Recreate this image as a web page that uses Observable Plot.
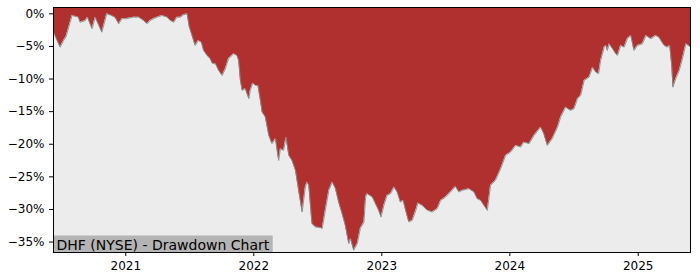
<!DOCTYPE html>
<html>
<head>
<meta charset="utf-8">
<script src="https://cdn.jsdelivr.net/npm/d3@7"></script>
<script src="https://cdn.jsdelivr.net/npm/@observablehq/plot@0.6"></script>
<style>
  html, body { margin: 0; padding: 0; background: white; }
  #chart { width: 700px; height: 280px; }
</style>
</head>
<body>
<div id="chart"></div>
<script>
const title = "DHF (NYSE) - Drawdown Chart";
const yTicks = [0, -5, -10, -15, -20, -25, -30, -35];
const yearTicks = ["2021-01-01", "2022-01-01", "2023-01-01", "2024-01-01", "2025-01-01"];

const dates = [
"2020-06-09","2020-06-17","2020-06-28","2020-07-08","2020-07-15","2020-08-01","2020-08-19","2020-08-24",
"2020-09-08","2020-09-14","2020-09-27","2020-10-06","2020-10-25","2020-11-08","2020-11-21","2020-12-02",
"2020-12-12","2020-12-22","2020-12-31","2021-01-23","2021-02-07","2021-02-21","2021-03-03","2021-03-12",
"2021-03-21","2021-03-31","2021-04-14","2021-04-29","2021-05-08","2021-05-18","2021-05-27","2021-06-06",
"2021-06-15","2021-06-25","2021-07-01","2021-07-10","2021-07-18","2021-07-27","2021-08-05","2021-08-11",
"2021-08-21","2021-08-30","2021-09-05","2021-09-14","2021-09-23","2021-10-03","2021-10-12","2021-10-21",
"2021-11-05","2021-11-14","2021-11-19","2021-11-24","2021-11-29","2021-12-08","2021-12-13","2021-12-18",
"2021-12-22","2021-12-29","2022-01-06","2022-01-13","2022-01-20","2022-01-25","2022-02-03","2022-02-13",
"2022-02-22","2022-03-04","2022-03-13","2022-03-18","2022-03-27","2022-04-03","2022-04-11","2022-04-20",
"2022-04-30","2022-05-09","2022-05-19","2022-05-28","2022-06-02","2022-06-07","2022-06-16","2022-06-26",
"2022-07-10","2022-07-15","2022-07-24","2022-08-03","2022-08-13","2022-08-22","2022-08-31","2022-09-10",
"2022-09-19","2022-09-29","2022-10-04","2022-10-13","2022-10-23","2022-11-01","2022-11-11","2022-11-16",
"2022-11-20","2022-12-05","2022-12-14","2022-12-23","2022-12-30","2023-01-07","2023-01-16","2023-01-26",
"2023-02-05","2023-02-14","2023-02-23","2023-03-03","2023-03-10","2023-03-19","2023-03-29","2023-04-08",
"2023-04-14","2023-04-26","2023-05-11","2023-05-25","2023-06-08","2023-06-18","2023-07-02","2023-07-16",
"2023-07-30","2023-08-09","2023-08-18","2023-09-06","2023-09-21","2023-09-30","2023-10-10","2023-10-19",
"2023-10-29","2023-11-07","2023-11-21","2023-12-06","2023-12-20","2024-01-03","2024-01-18","2024-02-01",
"2024-02-10","2024-02-25","2024-03-10","2024-03-29","2024-04-07","2024-04-17","2024-05-01","2024-05-16",
"2024-05-25","2024-06-08","2024-06-22","2024-07-02","2024-07-12","2024-07-21","2024-07-31","2024-08-14",
"2024-08-24","2024-09-02","2024-09-10","2024-09-16","2024-09-26","2024-10-01","2024-10-05","2024-10-10",
"2024-10-20","2024-10-29","2024-11-03","2024-11-12","2024-11-22","2024-12-01","2024-12-11","2024-12-20",
"2024-12-30","2025-01-13","2025-01-23","2025-02-06","2025-02-20","2025-03-01","2025-03-16","2025-03-25",
"2025-04-01","2025-04-07","2025-04-10","2025-04-18","2025-04-28","2025-05-07","2025-05-17","2025-05-24",
"2025-05-30"
];

const drawdown = [
-2.82,-3.78,-5.12,-4.09,-3.48,-0.26,-0.52,-1.29,
-1.03,-0.52,-2.30,-0.52,-2.82,0,-0.26,-0.57,
-1.53,-0.72,-0.77,-0.52,-0.52,-1.03,-1.53,-1.03,
-0.77,-0.52,-0.26,-0.52,-1.03,-1.29,-0.52,-0.52,
-0.15,0,-1.95,-3.48,-4.86,-4.09,-4.40,-5.62,
-6.39,-6.90,-7.62,-7.66,-8.69,-9.45,-8.43,-6.90,
-6.13,-6.39,-7.16,-10.22,-11.75,-11.49,-12.26,-13.02,
-11.75,-10.63,-10.99,-10.99,-13.29,-15.08,-15.84,-18.65,
-19.92,-19.15,-22.48,-20.69,-20.95,-18.91,-21.71,-22.48,
-24.01,-27.08,-30.40,-26.57,-25.80,-26.31,-32.18,-32.70,
-32.79,-32.94,-30.14,-27.08,-25.80,-26.82,-28.87,-30.65,
-32.44,-35.24,-34.48,-36.27,-35.24,-32.90,-31.98,-28.10,
-27.58,-28.10,-29.11,-30.14,-31.17,-29.37,-27.84,-27.58,
-26.57,-27.34,-28.87,-28.61,-30.14,-31.93,-31.67,-30.14,
-29.02,-29.37,-30.14,-30.40,-29.88,-28.61,-28.10,-27.34,
-26.46,-27.34,-27.08,-26.82,-27.34,-28.35,-28.61,-29.37,
-30.14,-26.31,-25.54,-23.75,-21.71,-21.21,-20.18,-20.44,
-19.68,-19.92,-18.65,-17.38,-18.39,-20.18,-19.15,-17.38,
-15.84,-14.31,-14.82,-14.56,-13.02,-12.52,-10.22,-9.71,
-8.18,-8.95,-9.19,-7.16,-5.12,-4.86,-5.62,-4.60,
-5.36,-6.13,-6.39,-4.86,-5.12,-3.83,-3.33,-5.62,
-4.86,-4.60,-3.33,-3.83,-3.33,-3.59,-4.86,-5.12,
-4.86,-8.18,-11.25,-9.96,-8.69,-6.90,-4.60,-4.86,
-5.12
];

const parse = d3.utcParse("%Y-%m-%d");
const data = dates.map((d, i) => ({date: parse(d), value: drawdown[i]}));
const yMin = -36.6, yMax = 0.97;
const xDomain = d3.extent(data, d => d.date);

const RED = "#b03030";
const GRAY = "#ececec";

const chart = Plot.plot({
  width: 700,
  height: 280,
  marginLeft: 53,
  marginRight: 10,
  marginTop: 7,
  marginBottom: 28,
  style: {fontFamily: "DejaVu Sans, sans-serif", fontSize: "12px", background: "white", color: "black"},
  x: {type: "utc", domain: xDomain},
  y: {domain: [yMin, yMax]},
  marks: [
    Plot.frame({fill: RED}),
    Plot.areaY(data, {x: "date", y1: () => yMin, y2: "value", fill: GRAY, curve: "linear"}),
    Plot.lineY(data, {x: "date", y: "value", stroke: "#8a8a8a", strokeWidth: 0.9}),
    Plot.axisY({ticks: yTicks, tickSize: 4, tickPadding: 5, fontSize: 12, label: null,
      tickFormat: d => (d === 0 ? "0" : "\u2212" + Math.abs(d)) + "%"}),
    Plot.axisX({ticks: yearTicks.map(parse), tickSize: 4, tickPadding: 5, fontSize: 12, label: null,
      tickFormat: d3.utcFormat("%Y")}),
    Plot.text([title], {frameAnchor: "bottom-left", dx: 3, dy: -3, fontSize: 14, fill: "black",
      textAnchor: "start", lineAnchor: "bottom", className: "dd-title"}),
    Plot.frame({stroke: "black", strokeWidth: 1})
  ]
});

document.getElementById("chart").appendChild(chart);

// grey label box behind the chart title
const t = chart.querySelector(".dd-title text");
if (t) {
  const bb = t.getBBox();
  const ctm = t.getCTM();
  const left = 53, bottom = 280 - 28;
  const rect = document.createElementNS("http://www.w3.org/2000/svg", "rect");
  const x0 = left, y0 = bb.y + (ctm ? ctm.f : 0) - 1;
  const x1 = bb.x + (ctm ? ctm.e : 0) + bb.width + 3;
  rect.setAttribute("x", x0);
  rect.setAttribute("y", y0);
  rect.setAttribute("width", x1 - x0);
  rect.setAttribute("height", bottom - y0);
  rect.setAttribute("fill", "#b4b4b4");
  const g = chart.querySelector(".dd-title");
  g.parentNode.insertBefore(rect, g);
}
</script>
</body>
</html>
